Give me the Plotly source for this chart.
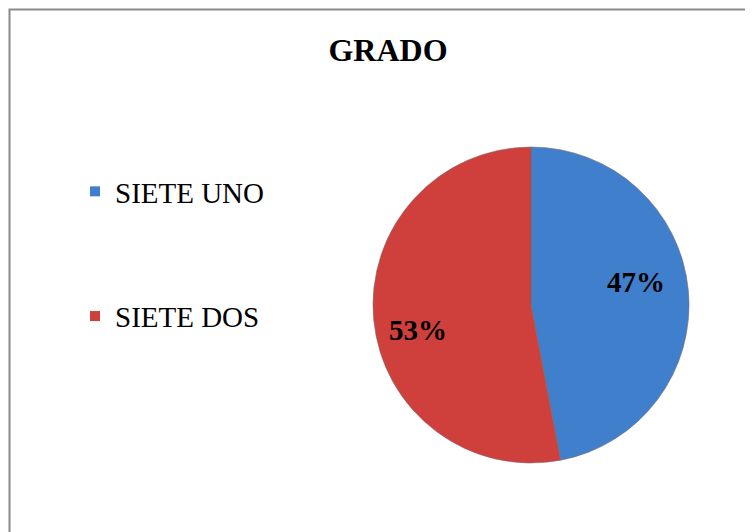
import plotly.graph_objects as go

# Datos
grados = ['SIETE UNO', 'SIETE DOS']
porcentajes = [47, 53]
colores = ['#3f7fcb', '#cf3f3c']

W, H = 753, 532
# the page adds an 8px body margin, so positions below are in figure px
PIE_X = (365, 681)
PIE_Y = (139, 455)
# where the percentage labels sit (figure px), one per slice
LABEL_POS = [(628, 274), (410, 322)]

fig = go.Figure()
fig.add_trace(go.Pie(
    labels=grados,
    values=porcentajes,
    sort=False,
    direction='clockwise',
    rotation=0,
    marker=dict(colors=colores, line=dict(color='#7a6a6a', width=0.6)),
    textinfo='none',
    showlegend=False,
    domain=dict(x=[PIE_X[0] / W, PIE_X[1] / W],
                y=[1 - PIE_Y[1] / H, 1 - PIE_Y[0] / H]),
    hoverinfo='label+percent',
))

# legend entries (one group each so the gap between them can be set)
for g, c in zip(grados, colores):
    fig.add_trace(go.Scatter(
        x=[None], y=[None], mode='markers', name=g, legendgroup=g,
        marker=dict(symbol='square', size=10, color=c),
    ))

total = sum(porcentajes)
for v, (px_, py_) in zip(porcentajes, LABEL_POS):
    fig.add_annotation(
        text='<b>%d%%</b>' % round(100 * v / total),
        xref='paper', yref='paper', x=px_ / W, y=1 - py_ / H,
        xanchor='center', yanchor='middle',
        showarrow=False,
        font=dict(family='Liberation Serif', size=29, color='#000000'),
    )

fig.update_layout(
    width=W, height=H,
    margin=dict(l=0, r=0, t=0, b=0),
    paper_bgcolor='white',
    plot_bgcolor='white',
    font=dict(family='Liberation Serif', color='#000000'),
    xaxis=dict(visible=False),
    yaxis=dict(visible=False),
    title=dict(text='<b>GRADO</b>', x=380 / W, xanchor='center',
               y=1 - 42 / H, yanchor='middle',
               font=dict(family='Liberation Serif', size=32, color='#000000')),
    legend=dict(
        x=67 / W, xanchor='left', y=1 - 158 / H, yanchor='top',
        font=dict(family='Liberation Serif', size=29, color='#000000'),
        traceorder='grouped', tracegroupgap=84,
        bgcolor='rgba(0,0,0,0)',
    ),
    shapes=[dict(type='rect', xref='paper', yref='paper',
                 x0=1.5 / W, x1=1.02, y0=-0.02, y1=1 - 1.5 / H,
                 line=dict(color='#8a8a8a', width=2), layer='above')],
)

fig.write_html('out.html')
